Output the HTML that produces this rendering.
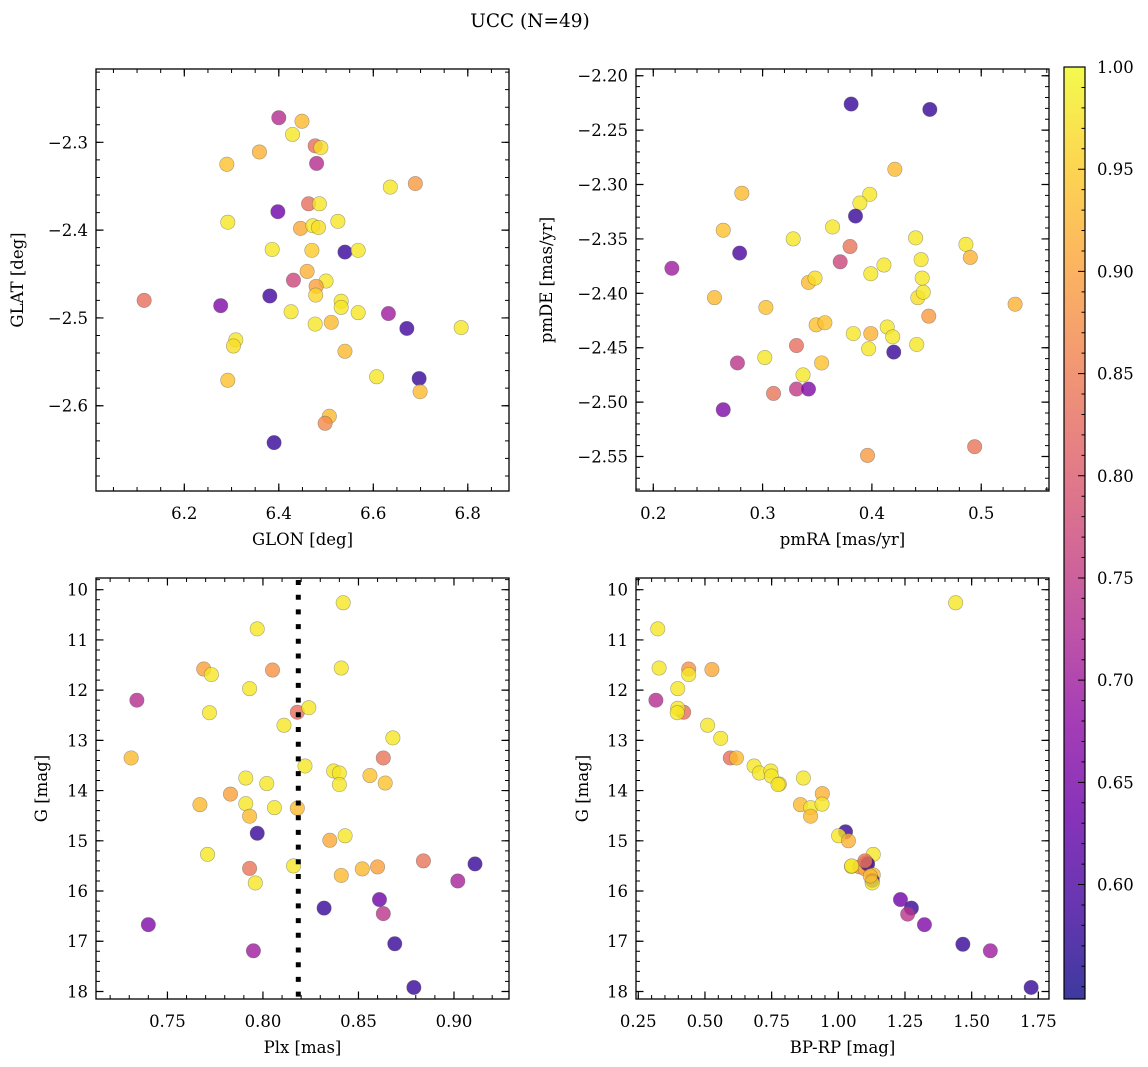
<!DOCTYPE html>
<html><head><meta charset="utf-8"><style>
html,body{margin:0;padding:0;background:#fff;}
svg{display:block;font-family:"DejaVu Serif","Liberation Serif",serif;}
</style></head><body>
<svg id="fig" width="1148" height="1067" viewBox="0 0 1148 1067" xmlns="http://www.w3.org/2000/svg">
<text x="530" y="27" font-size="18.5" text-anchor="middle">UCC (N=49)</text>
</svg>
<script>
// ---- data ----
const prob1 = [0.73,0.93,0.98,0.83,0.97,0.73,0.92,0.94,0.98,0.89,0.83,0.98,0.64,0.98,0.98,0.91,0.98,0.97,0.98,0.95,0.58,0.98,0.92,0.77,0.98,0.90,0.96,0.83,0.66,0.59,0.98,0.98,0.98,0.98,0.70,0.98,0.93,0.59,0.98,0.98,0.97,0.93,0.94,0.98,0.58,0.93,0.93,0.87,0.58];
const glon = [6.400,6.449,6.429,6.477,6.489,6.480,6.359,6.290,6.636,6.689,6.463,6.486,6.398,6.292,6.525,6.446,6.472,6.484,6.386,6.470,6.540,6.568,6.460,6.431,6.500,6.479,6.478,6.115,6.277,6.381,6.532,6.532,6.426,6.568,6.632,6.477,6.511,6.671,6.786,6.309,6.304,6.540,6.292,6.607,6.697,6.699,6.507,6.498,6.390];
const glat = [-2.272,-2.276,-2.291,-2.304,-2.306,-2.324,-2.311,-2.325,-2.351,-2.347,-2.370,-2.370,-2.379,-2.391,-2.390,-2.398,-2.395,-2.397,-2.422,-2.423,-2.425,-2.423,-2.447,-2.457,-2.458,-2.464,-2.474,-2.480,-2.486,-2.475,-2.481,-2.488,-2.493,-2.494,-2.495,-2.507,-2.505,-2.512,-2.511,-2.525,-2.532,-2.538,-2.571,-2.567,-2.569,-2.584,-2.612,-2.620,-2.642];

const prob2 = [0.58,0.58,0.93,0.93,0.98,0.98,0.58,0.98,0.94,0.98,0.98,0.98,0.84,0.60,0.92,0.77,0.70,0.98,0.98,0.98,0.93,0.97,0.98,0.93,0.97,0.98,0.94,0.92,0.89,0.94,0.94,0.98,0.98,0.92,0.98,0.83,0.98,0.98,0.58,0.98,0.94,0.74,0.98,0.84,0.75,0.66,0.66,0.89,0.84];
const pmra = [0.381,0.453,0.421,0.281,0.398,0.389,0.385,0.364,0.264,0.328,0.440,0.486,0.380,0.279,0.490,0.371,0.217,0.411,0.445,0.399,0.342,0.348,0.446,0.256,0.442,0.447,0.303,0.531,0.452,0.349,0.357,0.414,0.383,0.399,0.419,0.331,0.441,0.397,0.420,0.302,0.354,0.277,0.337,0.310,0.331,0.342,0.264,0.396,0.494];
const pmde = [-2.226,-2.231,-2.286,-2.308,-2.309,-2.317,-2.329,-2.339,-2.342,-2.350,-2.349,-2.355,-2.357,-2.363,-2.367,-2.371,-2.377,-2.374,-2.369,-2.382,-2.390,-2.386,-2.386,-2.404,-2.404,-2.399,-2.413,-2.410,-2.421,-2.429,-2.427,-2.431,-2.437,-2.437,-2.440,-2.448,-2.447,-2.451,-2.454,-2.459,-2.464,-2.464,-2.475,-2.492,-2.488,-2.488,-2.507,-2.549,-2.541];

const prob3 = [0.98,0.98,0.90,0.98,0.88,0.98,0.98,0.73,0.98,0.83,0.98,0.98,0.98,0.93,0.84,0.98,0.98,0.98,0.94,0.98,0.98,0.98,0.94,0.90,0.93,0.98,0.98,0.93,0.93,0.58,0.98,0.91,0.98,0.98,0.84,0.84,0.58,0.93,0.90,0.93,0.98,0.71,0.64,0.58,0.74,0.66,0.58,0.70,0.58];
const plx = [0.842,0.797,0.769,0.773,0.805,0.841,0.793,0.734,0.772,0.818,0.824,0.811,0.868,0.731,0.863,0.822,0.837,0.840,0.856,0.791,0.802,0.840,0.864,0.783,0.767,0.791,0.806,0.818,0.793,0.797,0.843,0.835,0.771,0.816,0.793,0.884,0.911,0.852,0.860,0.841,0.796,0.902,0.861,0.832,0.863,0.740,0.869,0.795,0.879];
const gmag3 = [10.26,10.78,11.58,11.69,11.60,11.56,11.97,12.20,12.45,12.44,12.35,12.70,12.95,13.35,13.35,13.51,13.61,13.65,13.70,13.75,13.86,13.88,13.85,14.07,14.28,14.26,14.34,14.35,14.51,14.85,14.90,14.99,15.27,15.50,15.55,15.40,15.46,15.56,15.52,15.69,15.84,15.80,16.17,16.34,16.45,16.67,17.05,17.19,17.92];
const plxLine = [0.8185];

const prob4 = [0.98,0.98,0.98,0.88,0.98,0.91,0.98,0.73,0.83,0.98,0.98,0.98,0.98,0.83,0.93,0.98,0.98,0.98,0.98,0.96,0.98,0.98,0.92,0.93,0.98,0.98,0.93,0.58,0.98,0.92,0.98,0.98,0.84,0.88,0.91,0.58,0.93,0.58,0.98,0.64,0.58,0.74,0.66,0.58,0.70,0.58,0.84,0.93,0.98];
const bprp = [1.440,0.323,0.328,0.439,0.439,0.526,0.398,0.316,0.420,0.398,0.396,0.510,0.559,0.595,0.618,0.684,0.704,0.747,0.749,0.779,0.774,0.869,0.940,0.858,0.896,0.939,0.896,1.027,1.001,1.038,1.131,1.049,1.104,1.081,1.101,1.110,1.131,1.127,1.127,1.233,1.274,1.260,1.323,1.467,1.570,1.723,1.100,1.120,1.050];
const gmag4 = [10.26,10.78,11.56,11.58,11.69,11.59,11.97,12.20,12.44,12.36,12.45,12.70,12.96,13.35,13.35,13.51,13.65,13.61,13.71,13.87,13.88,13.75,14.06,14.28,14.34,14.27,14.51,14.82,14.90,15.00,15.27,15.51,15.44,15.52,15.56,15.46,15.68,15.79,15.84,16.17,16.34,16.46,16.67,17.06,17.19,17.92,15.40,15.70,15.50];

const ticks1x = [6.2,6.4,6.6,6.8], ticks1y = [-2.3,-2.4,-2.5,-2.6];
const ticks2x = [0.2,0.3,0.4,0.5], ticks2y = [-2.20,-2.25,-2.30,-2.35,-2.40,-2.45,-2.50,-2.55];
const ticks3x = [0.75,0.80,0.85,0.90], ticksG = [10,11,12,13,14,15,16,17,18];
const ticks4x = [0.25,0.50,0.75,1.00,1.25,1.50,1.75];
const ticksCb = [0.60,0.65,0.70,0.75,0.80,0.85,0.90,0.95,1.00];

// ---- helpers ----
const NS = "http://www.w3.org/2000/svg";
const svg = document.getElementById('fig');
const VMIN = 0.544, VMAX = 1.0;
const FS = 16.5;
const plasma = ['#0d0887','#41049d','#6a00a8','#8f0da4','#b12a90','#cc4778','#e16462','#f2844b','#fca636','#fcce25','#f0f921'];
function hex(h){return [parseInt(h.substr(1,2),16),parseInt(h.substr(3,2),16),parseInt(h.substr(5,2),16)];}
function cmap(v){
  let t = (v-VMIN)/(VMAX-VMIN); t = Math.max(0,Math.min(1,t));
  const f = t*10, i = Math.min(9,Math.floor(f)), r = f-i;
  const a = hex(plasma[i]), b = hex(plasma[i+1]);
  return 'rgb('+a.map((c,k)=>Math.round(c+(b[k]-c)*r)).join(',')+')';
}
function mk(tag, attrs, parent){
  const e = document.createElementNS(NS, tag);
  for (const k in attrs) e.setAttribute(k, attrs[k]);
  (parent||svg).appendChild(e);
  return e;
}
function fmt(v, d){ return v.toFixed(d).replace('-', '\u2212'); }
function lin(d0,d1,r0,r1){ return v => r0 + (v-d0)/(d1-d0)*(r1-r0); }

function panel(cfg){
  const g = mk('g', {});
  
  
  const {L,R,T,B} = cfg;
  const sx = lin(cfg.xd[0], cfg.xd[1], L, R);
  const sy = lin(cfg.yd[0], cfg.yd[1], B, T);
  const cid = 'clip-'+cfg.name;
  const cp = mk('clipPath', {id:cid}, g);
  mk('rect', {x:L, y:T, width:R-L, height:B-T}, cp);
  const pts = mk('g', {'clip-path':'url(#'+cid+')'}, g);
  
  
  for (let i=0;i<cfg.xs.length;i++){
    const c = mk('circle', {cx:sx(cfg.xs[i]).toFixed(2), cy:sy(cfg.ys[i]).toFixed(2), r:7.2, fill:cmap(cfg.c[i]), 'fill-opacity':0.8, stroke:'#555', 'stroke-opacity':0.5, 'stroke-width':0.6}, pts);
    
    
  }
  if (cfg.vline){
    cfg.vline.forEach(v=>{
      const l = mk('line', {x1:sx(v), x2:sx(v), y1:T+2, y2:B, stroke:'#000', 'stroke-width':5, 'stroke-dasharray':'5 9.7'}, g);
      
      
    });
  }
  const fr = mk('rect', {x:L, y:T, width:R-L, height:B-T, fill:'none', stroke:'#000', 'stroke-width':1.3}, g);
  
  
  let d = '';
  const x0 = Math.ceil(cfg.xd[0]/cfg.xm - 1e-6), x1 = Math.floor(cfg.xd[1]/cfg.xm + 1e-6);
  for (let k=x0;k<=x1;k++){ const x = sx(k*cfg.xm); d += `M${x} ${B}v-4M${x} ${T}v4`; }
  const y0 = Math.ceil(Math.min(cfg.yd[0],cfg.yd[1])/cfg.ym - 1e-6), y1 = Math.floor(Math.max(cfg.yd[0],cfg.yd[1])/cfg.ym + 1e-6);
  for (let k=y0;k<=y1;k++){ const y = sy(k*cfg.ym); d += `M${L} ${y}h4M${R} ${y}h-4`; }
  mk('path', {d, stroke:'#000', 'stroke-width':1, fill:'none'}, g);
  let dm = '';
  cfg.xt.forEach(v=>{
    const x = sx(v); dm += `M${x} ${B}v-7.5M${x} ${T}v7.5`;
    const t = mk('text', {x, y:B+28, 'font-size':FS, 'text-anchor':'middle'}, g);
    t.textContent = fmt(v, cfg.xdec);
    
    
  });
  cfg.yt.forEach(v=>{
    const y = sy(v); dm += `M${L} ${y}h7.5M${R} ${y}h-7.5`;
    const t = mk('text', {x:L-8, y:y+6, 'font-size':FS, 'text-anchor':'end'}, g);
    t.textContent = fmt(v, cfg.ydec);
    
    
  });
  mk('path', {d:dm, stroke:'#000', 'stroke-width':1.2, fill:'none'}, g);
  const xl = mk('text', {x:(L+R)/2, y:B+54, 'font-size':FS, 'text-anchor':'middle'}, g);
  xl.textContent = cfg.xlab;
  
  
  const yx = cfg.ylx, yc = (T+B)/2;
  const yl = mk('text', {x:yx, y:yc, 'font-size':FS, 'text-anchor':'middle', transform:`rotate(-90 ${yx} ${yc})`}, g);
  yl.textContent = cfg.ylab;
  
  
}

panel({name:'glon-glat-panel', L:96,R:509,T:69,B:491, xd:[6.0131,6.8872], yd:[-2.6971,-2.2165], xs:glon, ys:glat, c:prob1, xt:ticks1x, yt:ticks1y, xm:0.05, ym:0.02, xdec:1, ydec:1, xlab:'GLON [deg]', ylab:'GLAT [deg]', ylx:23});
panel({name:'pm-panel', L:636,R:1049,T:69,B:491, xd:[0.1842,0.562], yd:[-2.5817,-2.1938], xs:pmra, ys:pmde, c:prob2, xt:ticks2x, yt:ticks2y, xm:0.02, ym:0.01, xdec:1, ydec:2, xlab:'pmRA [mas/yr]', ylab:'pmDE [mas/yr]', ylx:552});
panel({name:'plx-g-panel', L:96,R:509,T:578,B:999, xd:[0.7126,0.9288], yd:[18.15,9.767], xs:plx, ys:gmag3, c:prob3, xt:ticks3x, yt:ticksG, xm:0.01, ym:0.2, xdec:2, ydec:0, xlab:'Plx [mas]', ylab:'G [mag]', ylx:47, vline:plxLine});
panel({name:'cmd-panel', L:636,R:1049,T:578,B:999, xd:[0.2414,1.790], yd:[18.15,9.767], xs:bprp, ys:gmag4, c:prob4, xt:ticks4x, yt:ticksG, xm:0.05, ym:0.2, xdec:2, ydec:0, xlab:'BP-RP [mag]', ylab:'G [mag]', ylx:588});

// ---- colorbar ----
(function(){
  const L=1064, R=1085, T=67, B=999;
  const sc = lin(VMIN, VMAX, B, T);
  const g = mk('g', {});
  
  
  const defs = mk('defs', {}, g);
  const grad = mk('linearGradient', {id:'cbgrad', x1:0, y1:1, x2:0, y2:0}, defs);
  plasma.forEach((c,i)=>mk('stop', {offset:(i/10), 'stop-color':c}, grad));
  const r = mk('rect', {x:L, y:T, width:R-L, height:B-T, fill:'url(#cbgrad)', 'fill-opacity':0.8, stroke:'#000', 'stroke-width':1.2}, g);
  
  
  let d = '';
  for (let k=Math.ceil(VMIN*100); k<=100; k++){ const y = sc(k/100); d += `M${R} ${y}h-3.5`; }
  ticksCb.forEach(v=>{
    const y = sc(v); d += `M${R} ${y}h-7`;
    const t = mk('text', {x:R+12, y:y+6, 'font-size':FS}, g);
    t.textContent = v.toFixed(2);
    
    
  });
  mk('path', {d, stroke:'#000', 'stroke-width':1, fill:'none'}, g);
})();
</script>
</body></html>
